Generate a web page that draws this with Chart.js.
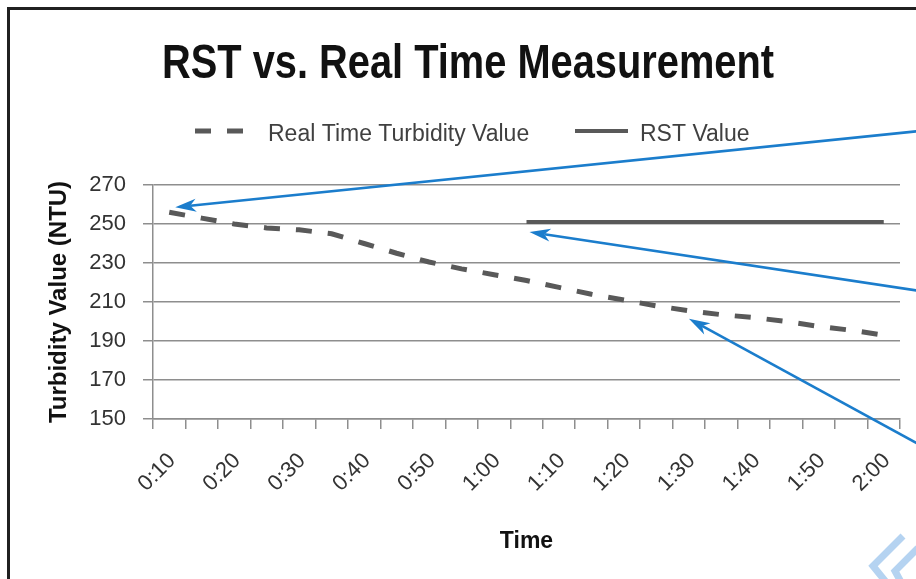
<!DOCTYPE html>
<html>
<head>
<meta charset="utf-8">
<script src="https://cdn.jsdelivr.net/npm/chart.js@4"></script>
<style>
  html, body { margin: 0; padding: 0; background: #fff; }
  canvas { display: block; }
</style>
</head>
<body>
<canvas id="rstChart" width="916" height="579"></canvas>
<script>
// categories: one reading every 5 minutes, labels shown every 10
const times = ['0:10', '0:15', '0:20', '0:25', '0:30', '0:35', '0:40', '0:45', '0:50', '0:55',
  '1:00', '1:05', '1:10', '1:15', '1:20', '1:25', '1:30', '1:35', '1:40', '1:45', '1:50', '1:55', '2:00'];
const realTimeValues = [256, 253, 250, 248, 247, 245, 240, 235, 230.5, 227, 224, 221,
  217.5, 214, 211, 208, 205.5, 203.5, 202, 200, 197.5, 195.5, 193];
const rstValues = [null, null, null, null, null, null, null, null, null, null, null,
  251, 251, 251, 251, 251, 251, 251, 251, 251, 251, 251, 251];
const yMin = 150, yMax = 270, yStep = 20;

const titleText = 'RST vs. Real Time Measurement';
const lineGrey = '#595959';
const gridGrey = '#8e8e8e';
const arrowBlue = '#1b7dcc';

// callouts: [dataset index, point index, tip dx, tip dy, start y at right edge]
const callouts = [
  [0, 0, 6, -5, 129],
  [1, 11, 3, 10, 289],
  [0, 16, 0, 8, 443]
];

function drawArrow(ctx, x0, y0, x1, y1) {
  const ang = Math.atan2(y1 - y0, x1 - x0);
  const len = 21, half = 6.5, notch = 15;
  ctx.beginPath();
  ctx.moveTo(x0, y0);
  ctx.lineTo(x1 - Math.cos(ang) * notch, y1 - Math.sin(ang) * notch);
  ctx.stroke();
  ctx.save();
  ctx.translate(x1, y1);
  ctx.rotate(ang);
  ctx.beginPath();
  ctx.moveTo(0, 0);
  ctx.lineTo(-len, -half);
  ctx.lineTo(-notch, 0);
  ctx.lineTo(-len, half);
  ctx.closePath();
  ctx.fill();
  ctx.restore();
}

const decorations = {
  id: 'decorations',
  afterDraw(chart) {
    const ctx = chart.ctx;
    const ds = chart.data.datasets;
    ctx.save();

    // frame of the original figure
    ctx.strokeStyle = '#202020';
    ctx.lineWidth = 3;
    ctx.beginPath();
    ctx.moveTo(8.5, 590);
    ctx.lineTo(8.5, 8.5);
    ctx.lineTo(930, 8.5);
    ctx.stroke();

    // title
    ctx.fillStyle = '#111';
    ctx.font = 'bold 48px "Liberation Sans Narrow", "Liberation Sans", sans-serif';
    ctx.textBaseline = 'alphabetic';
    const tw = ctx.measureText(titleText).width;
    const sx = Math.min(1, 612 / tw);
    ctx.save();
    ctx.translate(468, 78);
    ctx.scale(sx, 1);
    ctx.textAlign = 'center';
    ctx.fillText(titleText, 0, 0);
    ctx.restore();

    // legend
    const legendItems = [[195, 249, 268], [575, 628, 640]];
    ctx.font = '23px "Liberation Sans", sans-serif';
    ctx.textAlign = 'left';
    legendItems.forEach(([a, b, tx], i) => {
      ctx.strokeStyle = ds[i].borderColor;
      ctx.lineWidth = ds[i].borderWidth;
      ctx.setLineDash(ds[i].borderDash || []);
      ctx.beginPath();
      ctx.moveTo(a, 131);
      ctx.lineTo(b, 131);
      ctx.stroke();
      ctx.setLineDash([]);
      ctx.fillStyle = '#404040';
      ctx.fillText(ds[i].label, tx, 141);
    });

    // blue callout arrows
    ctx.strokeStyle = arrowBlue;
    ctx.fillStyle = arrowBlue;
    ctx.lineWidth = 2.6;
    callouts.forEach(([d, idx, dx, dy, sy]) => {
      const pt = chart.getDatasetMeta(d).data[idx];
      drawArrow(ctx, 920, sy + 2, pt.x + dx, pt.y + dy);
    });

    // light blue mark in the bottom corner
    ctx.strokeStyle = '#b5d3f1';
    ctx.lineWidth = 7;
    ctx.beginPath();
    ctx.moveTo(903, 536);
    ctx.lineTo(873, 566);
    ctx.lineTo(886, 582);
    ctx.moveTo(918, 548);
    ctx.lineTo(895, 571);
    ctx.lineTo(901, 582);
    ctx.stroke();

    ctx.restore();
  }
};

new Chart(document.getElementById('rstChart'), {
  type: 'line',
  data: {
    labels: times,
    datasets: [
      {
        label: 'Real Time Turbidity Value',
        data: realTimeValues,
        borderColor: lineGrey,
        borderWidth: 5,
        borderDash: [16, 16],
        borderCapStyle: 'butt',
        pointRadius: 0,
        tension: 0,
        fill: false
      },
      {
        label: 'RST Value',
        data: rstValues,
        borderColor: lineGrey,
        borderWidth: 4,
        pointRadius: 0,
        tension: 0,
        fill: false
      }
    ]
  },
  options: {
    responsive: false,
    animation: false,
    devicePixelRatio: 1,
    layout: { padding: { left: 45, right: 16, top: 185, bottom: 22 } },
    plugins: {
      legend: { display: false },
      title: { display: false },
      tooltip: { enabled: false }
    },
    scales: {
      x: {
        offset: true,
        afterFit: s => { s.height = 138; s.paddingLeft = 0; s.paddingRight = 0; },
        grid: { drawOnChartArea: false, offset: true, tickLength: 10, color: gridGrey, lineWidth: 1.5 },
        border: { color: gridGrey, width: 1.5 },
        ticks: {
          autoSkip: false,
          minRotation: 45,
          maxRotation: 45,
          padding: 19,
          labelOffset: 3,
          color: '#333',
          font: { family: '"Liberation Sans", sans-serif', size: 22 },
          callback: (v, i) => (i % 2 === 0 ? times[i] : '')
        },
        title: {
          display: true,
          text: 'Time',
          color: '#111',
          font: { family: '"Liberation Sans", sans-serif', size: 23, weight: 'bold' },
          padding: { top: 0, bottom: 2 }
        }
      },
      y: {
        min: yMin,
        max: yMax,
        afterFit: s => { s.width = 108; s.paddingTop = 0; s.paddingBottom = 0; },
        grid: { color: gridGrey, lineWidth: 1.5, tickLength: 10 },
        border: { color: gridGrey, width: 1.5 },
        ticks: {
          stepSize: yStep,
          padding: 17,
          color: '#333',
          font: { family: '"Liberation Sans", sans-serif', size: 22 }
        },
        title: {
          display: true,
          text: 'Turbidity Value (NTU)',
          color: '#111',
          font: { family: '"Liberation Sans", sans-serif', size: 24, weight: 'bold' },
          padding: { top: 0, bottom: 0 }
        }
      }
    }
  },
  plugins: [decorations]
});
</script>
</body>
</html>
